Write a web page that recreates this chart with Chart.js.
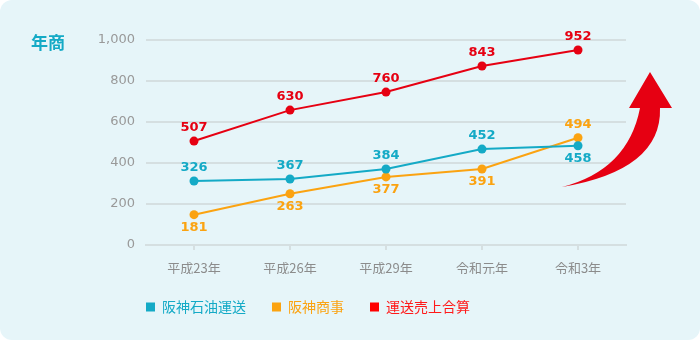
<!DOCTYPE html>
<html lang="ja">
<head>
<meta charset="utf-8">
<script src="https://cdn.jsdelivr.net/npm/chart.js@4/dist/chart.umd.min.js"></script>
<style>
  html, body { margin: 0; padding: 0; background: #ffffff; }
  .wrap {
    width: 700px; height: 340px;
    background: #e6f5f9;
    border-radius: 12px;
    position: relative;
  }
</style>
</head>
<body>
<div class="wrap"><canvas id="sales" width="700" height="340"></canvas></div>
<script>
// 売上推移 - Chart.js

const years = ['平成23年', '平成26年', '平成29年', '令和元年', '令和3年'];

// plotted positions
const hanshinOil = [312, 322, 371, 468, 484];
const hanshinTrade = [148, 250, 332, 371, 523];
const transportTotal = [507, 658, 746, 873, 951];

// printed value labels
const hanshinOilText = ['326', '367', '384', '452', '458'];
const hanshinTradeText = ['181', '263', '377', '391', '494'];
const transportTotalText = ['507', '630', '760', '843', '952'];

// label above (-1) or below (+1) each point
const hanshinOilSide = [-1, -1, -1, -1, 1];
const hanshinTradeSide = [1, 1, 1, 1, -1];
const transportTotalSide = [-1, -1, -1, -1, -1];

const seriesNames = ['阪神石油運送', '阪神商事', '運送売上合算'];

const CYAN = '#14aac6';
const ORANGE = '#fba311';
const RED = '#e60012';
const GRID = '#d5dfe1';

const NUM_FONT = "'DejaVu Sans', Verdana, sans-serif";
const JP_FONT = "'Noto Sans CJK JP', 'Noto Sans', sans-serif";

/**
 * Value labels next to each point
 */
const valueLabels = {
  id: 'valueLabels',
  afterDatasetsDraw(chart) {
    const ctx = chart.ctx;
    ctx.save();
    ctx.font = "bold 13px " + NUM_FONT;
    ctx.textAlign = 'center';
    ctx.textBaseline = 'middle';
    chart.data.datasets.forEach((ds, i) => {
      const meta = chart.getDatasetMeta(i);
      ctx.fillStyle = ds.borderColor;
      meta.data.forEach((pt, j) => {
        ctx.fillText(ds.valueText[j], pt.x, pt.y + ds.labelSide[j] * 13);
      });
    });
    ctx.restore();
  }
};

/**
 * "年商" heading and the big red arrow
 */
const decorations = {
  id: 'decorations',
  afterDraw(chart) {
    const ctx = chart.ctx;
    ctx.save();
    ctx.fillStyle = CYAN;
    ctx.font = "bold 17px " + JP_FONT;
    ctx.textAlign = 'center';
    ctx.textBaseline = 'middle';
    ctx.fillText('年商', 48, 43);

    // curved arrow
    ctx.fillStyle = RED;
    ctx.beginPath();
    ctx.moveTo(562, 187);
    ctx.quadraticCurveTo(662, 170, 660, 108);
    ctx.lineTo(672, 108);
    ctx.lineTo(650, 72);
    ctx.lineTo(629, 108);
    ctx.lineTo(640, 108);
    ctx.quadraticCurveTo(628, 170, 562, 187);
    ctx.closePath();
    ctx.fill();
    ctx.restore();
  }
};

function makeSet(i, values, texts, sides, color) {
  return {
    label: seriesNames[i],
    data: values,
    valueText: texts,
    labelSide: sides,
    borderColor: color,
    backgroundColor: color,
    borderWidth: 2,
    pointRadius: 4.5,
    pointHoverRadius: 5,
    pointBorderWidth: 0,
    pointBackgroundColor: color,
    tension: 0
  };
}

const legendColors = [CYAN, ORANGE, '#ff1a1a'];
const legendBoxes = [CYAN, ORANGE, '#ff0000'];

new Chart(document.getElementById('sales').getContext('2d'), {
  type: 'line',
  data: {
    labels: years,
    datasets: [
      makeSet(0, hanshinOil, hanshinOilText, hanshinOilSide, CYAN),
      makeSet(1, hanshinTrade, hanshinTradeText, hanshinTradeSide, ORANGE),
      makeSet(2, transportTotal, transportTotalText, transportTotalSide, RED)
    ]
  },
  options: {
    responsive: false,
    animation: false,
    devicePixelRatio: 1,
    layout: { padding: { top: 40, right: 74, bottom: 16, left: -10 } },
    plugins: {
      legend: {
        position: 'bottom',
        labels: {
          boxWidth: 9,
          boxHeight: 9,
          padding: 26,
          font: { family: JP_FONT, size: 14 },
          generateLabels: chart => chart.data.datasets.map((ds, i) => ({
            text: ds.label,
            fillStyle: legendBoxes[i],
            strokeStyle: legendBoxes[i],
            lineWidth: 0,
            fontColor: legendColors[i],
            hidden: false,
            datasetIndex: i
          }))
        }
      },
      tooltip: { enabled: false }
    },
    scales: {
      x: {
        offset: true,
        afterFit: axis => { axis.height = 29; },
        grid: {
          drawOnChartArea: false,
          drawTicks: true,
          tickLength: 5,
          color: GRID,
          lineWidth: 2
        },
        border: { display: true, color: GRID, width: 2 },
        ticks: {
          color: '#8c8c8c',
          padding: 10,
          font: { family: JP_FONT, size: 13 }
        }
      },
      y: {
        min: 0,
        max: 1000,
        afterFit: axis => { axis.width = 156; },
        grid: { color: GRID, lineWidth: 2, drawTicks: false },
        border: { display: false },
        ticks: {
          stepSize: 200,
          color: '#999999',
          padding: 11,
          font: { family: NUM_FONT, size: 13 },
          callback: v => v.toLocaleString('en-US')
        }
      }
    }
  },
  plugins: [valueLabels, decorations]
});
</script>
</body>
</html>
